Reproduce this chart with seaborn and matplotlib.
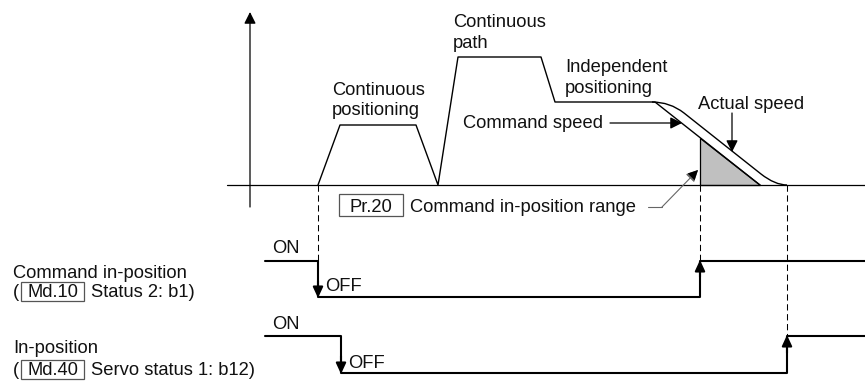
import numpy as np
import pandas as pd
import seaborn as sns
import matplotlib.pyplot as plt
from matplotlib.patches import Rectangle, Polygon, PathPatch
from matplotlib.path import Path

sns.set_style("white")
plt.rcParams['font.family'] = ['Liberation Sans', 'DejaVu Sans']

FS = 13.2
BASE = 185  # pixel row of the time axis

# command speed profile: time position, speed above the axis
cmd_t = [318, 340, 416, 438, 458, 541, 555, 655, 760]
cmd_v = [0, 60, 60, 0, 128, 128, 83, 83, 0]

# actual speed (rounded corners around the last deceleration)
act_pts = [(652, 83), (670, 83), (684, 72), (761, 11), (775, 0), (787, 0)]

# in-position timing
inpos_cmd_t = 700    # command in-position turns ON
inpos_srv_t = 787    # in-position turns ON

# signals: time, state (1 = ON, 0 = OFF)
sig1_t = [265, 318, 318, 700, 700, 865]
sig1_s = [1, 1, 0, 0, 1, 1]
sig2_t = [265, 341, 341, 787, 787, 865]
sig2_s = [1, 1, 0, 0, 1, 1]
sig1_rows = {1: 261, 0: 297}
sig2_rows = {1: 336, 0: 373}

fig = plt.figure(figsize=(8.65, 3.81), dpi=100)
ax = fig.add_axes([0, 0, 1, 1])
ax.set_xlim(0, 865)
ax.set_ylim(381, 0)
ax.axis('off')

def arrow(x0, y0, x1, y1, color='k', lw=1.0, hl=0.7, hw=0.35):
    ax.annotate('', xy=(x1, y1), xytext=(x0, y0),
                arrowprops=dict(arrowstyle=f'-|>,head_length={hl},head_width={hw}',
                                color=color, lw=lw, shrinkA=0, shrinkB=0,
                                mutation_scale=10))

# axes of the speed chart
ax.plot([227, 865], [BASE, BASE], color='k', lw=0.9)
arrow(250, 207, 250, 12, lw=0.9)

# command speed
df = pd.DataFrame({'t': cmd_t, 'y': [BASE - v for v in cmd_v]})
sns.lineplot(data=df, x='t', y='y', sort=False, estimator=None, color='k', lw=1.0, ax=ax)

# actual speed
verts = [(t, BASE - v) for t, v in act_pts]
codes = [Path.MOVETO, Path.CURVE3, Path.CURVE3, Path.LINETO, Path.CURVE3, Path.CURVE3]
ax.add_patch(PathPatch(Path(verts, codes), fc='none', ec='k', lw=1.0))

# in-position range (shaded)
v_at = np.interp(inpos_cmd_t, cmd_t, cmd_v)
ax.add_patch(Polygon([(inpos_cmd_t, BASE - v_at), (inpos_cmd_t, BASE), (cmd_t[-1], BASE)],
                     closed=True, fc='#c0c0c0', ec='k', lw=0.9))

# dashed guides
for x, y1 in [(318, 261), (inpos_cmd_t, 261), (inpos_srv_t, 336)]:
    ax.plot([x, x], [BASE, y1], color='k', lw=0.75, ls=(0, (6, 3.5)))

# signals
for t, s, rows in [(sig1_t, sig1_s, sig1_rows), (sig2_t, sig2_s, sig2_rows)]:
    sdf = pd.DataFrame({'t': t, 'y': [rows[v] for v in s]})
    sns.lineplot(data=sdf, x='t', y='y', sort=False, estimator=None, color='k', lw=1.5, ax=ax)
    arrow(t[1], rows[1] + 20, t[1], rows[0] + 1, lw=1.5, hl=0.65, hw=0.3)
    arrow(t[3], rows[0] - 20, t[3], rows[1] - 1, lw=1.5, hl=0.65, hw=0.3)

# annotations on the speed chart
txt = dict(fontsize=FS, va='baseline', color='#111')
ax.text(332, 95, 'Continuous', **txt)
ax.text(332, 115, 'positioning', **txt)
ax.text(453, 27, 'Continuous', **txt)
ax.text(453, 48, 'path', **txt)
ax.text(565, 72, 'Independent', **txt)
ax.text(565, 93, 'positioning', **txt)
ax.text(463, 128, 'Command speed', **txt)
arrow(610, 123, 682, 123, lw=0.9)
ax.text(698, 109, 'Actual speed', **txt)
arrow(732, 113, 732, 152, lw=0.9)

ax.add_patch(Rectangle((339, 194), 64, 22, fc='w', ec='#555', lw=0.9))
ax.text(371, 212, 'Pr.20', ha='center', **txt)
ax.text(410, 212, 'Command in-position range', **txt)
ax.plot([648, 662], [207, 207], color='#666', lw=0.8)
arrow(662, 207, 698, 170, color='#666', lw=0.8)
arrow(690, 178, 698, 170, lw=0.0)

# signal labels
ax.text(272, 253, 'ON', **txt)
ax.text(325, 291, 'OFF', **txt)
ax.text(272, 329, 'ON', **txt)
ax.text(348, 368, 'OFF', **txt)

ax.text(13, 278, 'Command in-position', **txt)
ax.text(13, 297, '(', **txt)
ax.add_patch(Rectangle((21, 282), 63, 19, fc='w', ec='#555', lw=0.9))
ax.text(52.5, 297, 'Md.10', ha='center', **txt)
ax.text(91, 297, 'Status 2: b1)', **txt)

ax.text(13, 353, 'In-position', **txt)
ax.text(13, 375, '(', **txt)
ax.add_patch(Rectangle((21, 360), 63, 19, fc='w', ec='#555', lw=0.9))
ax.text(52.5, 375, 'Md.40', ha='center', **txt)
ax.text(91, 375, 'Servo status 1: b12)', **txt)

fig.savefig('out.png', dpi=100)
